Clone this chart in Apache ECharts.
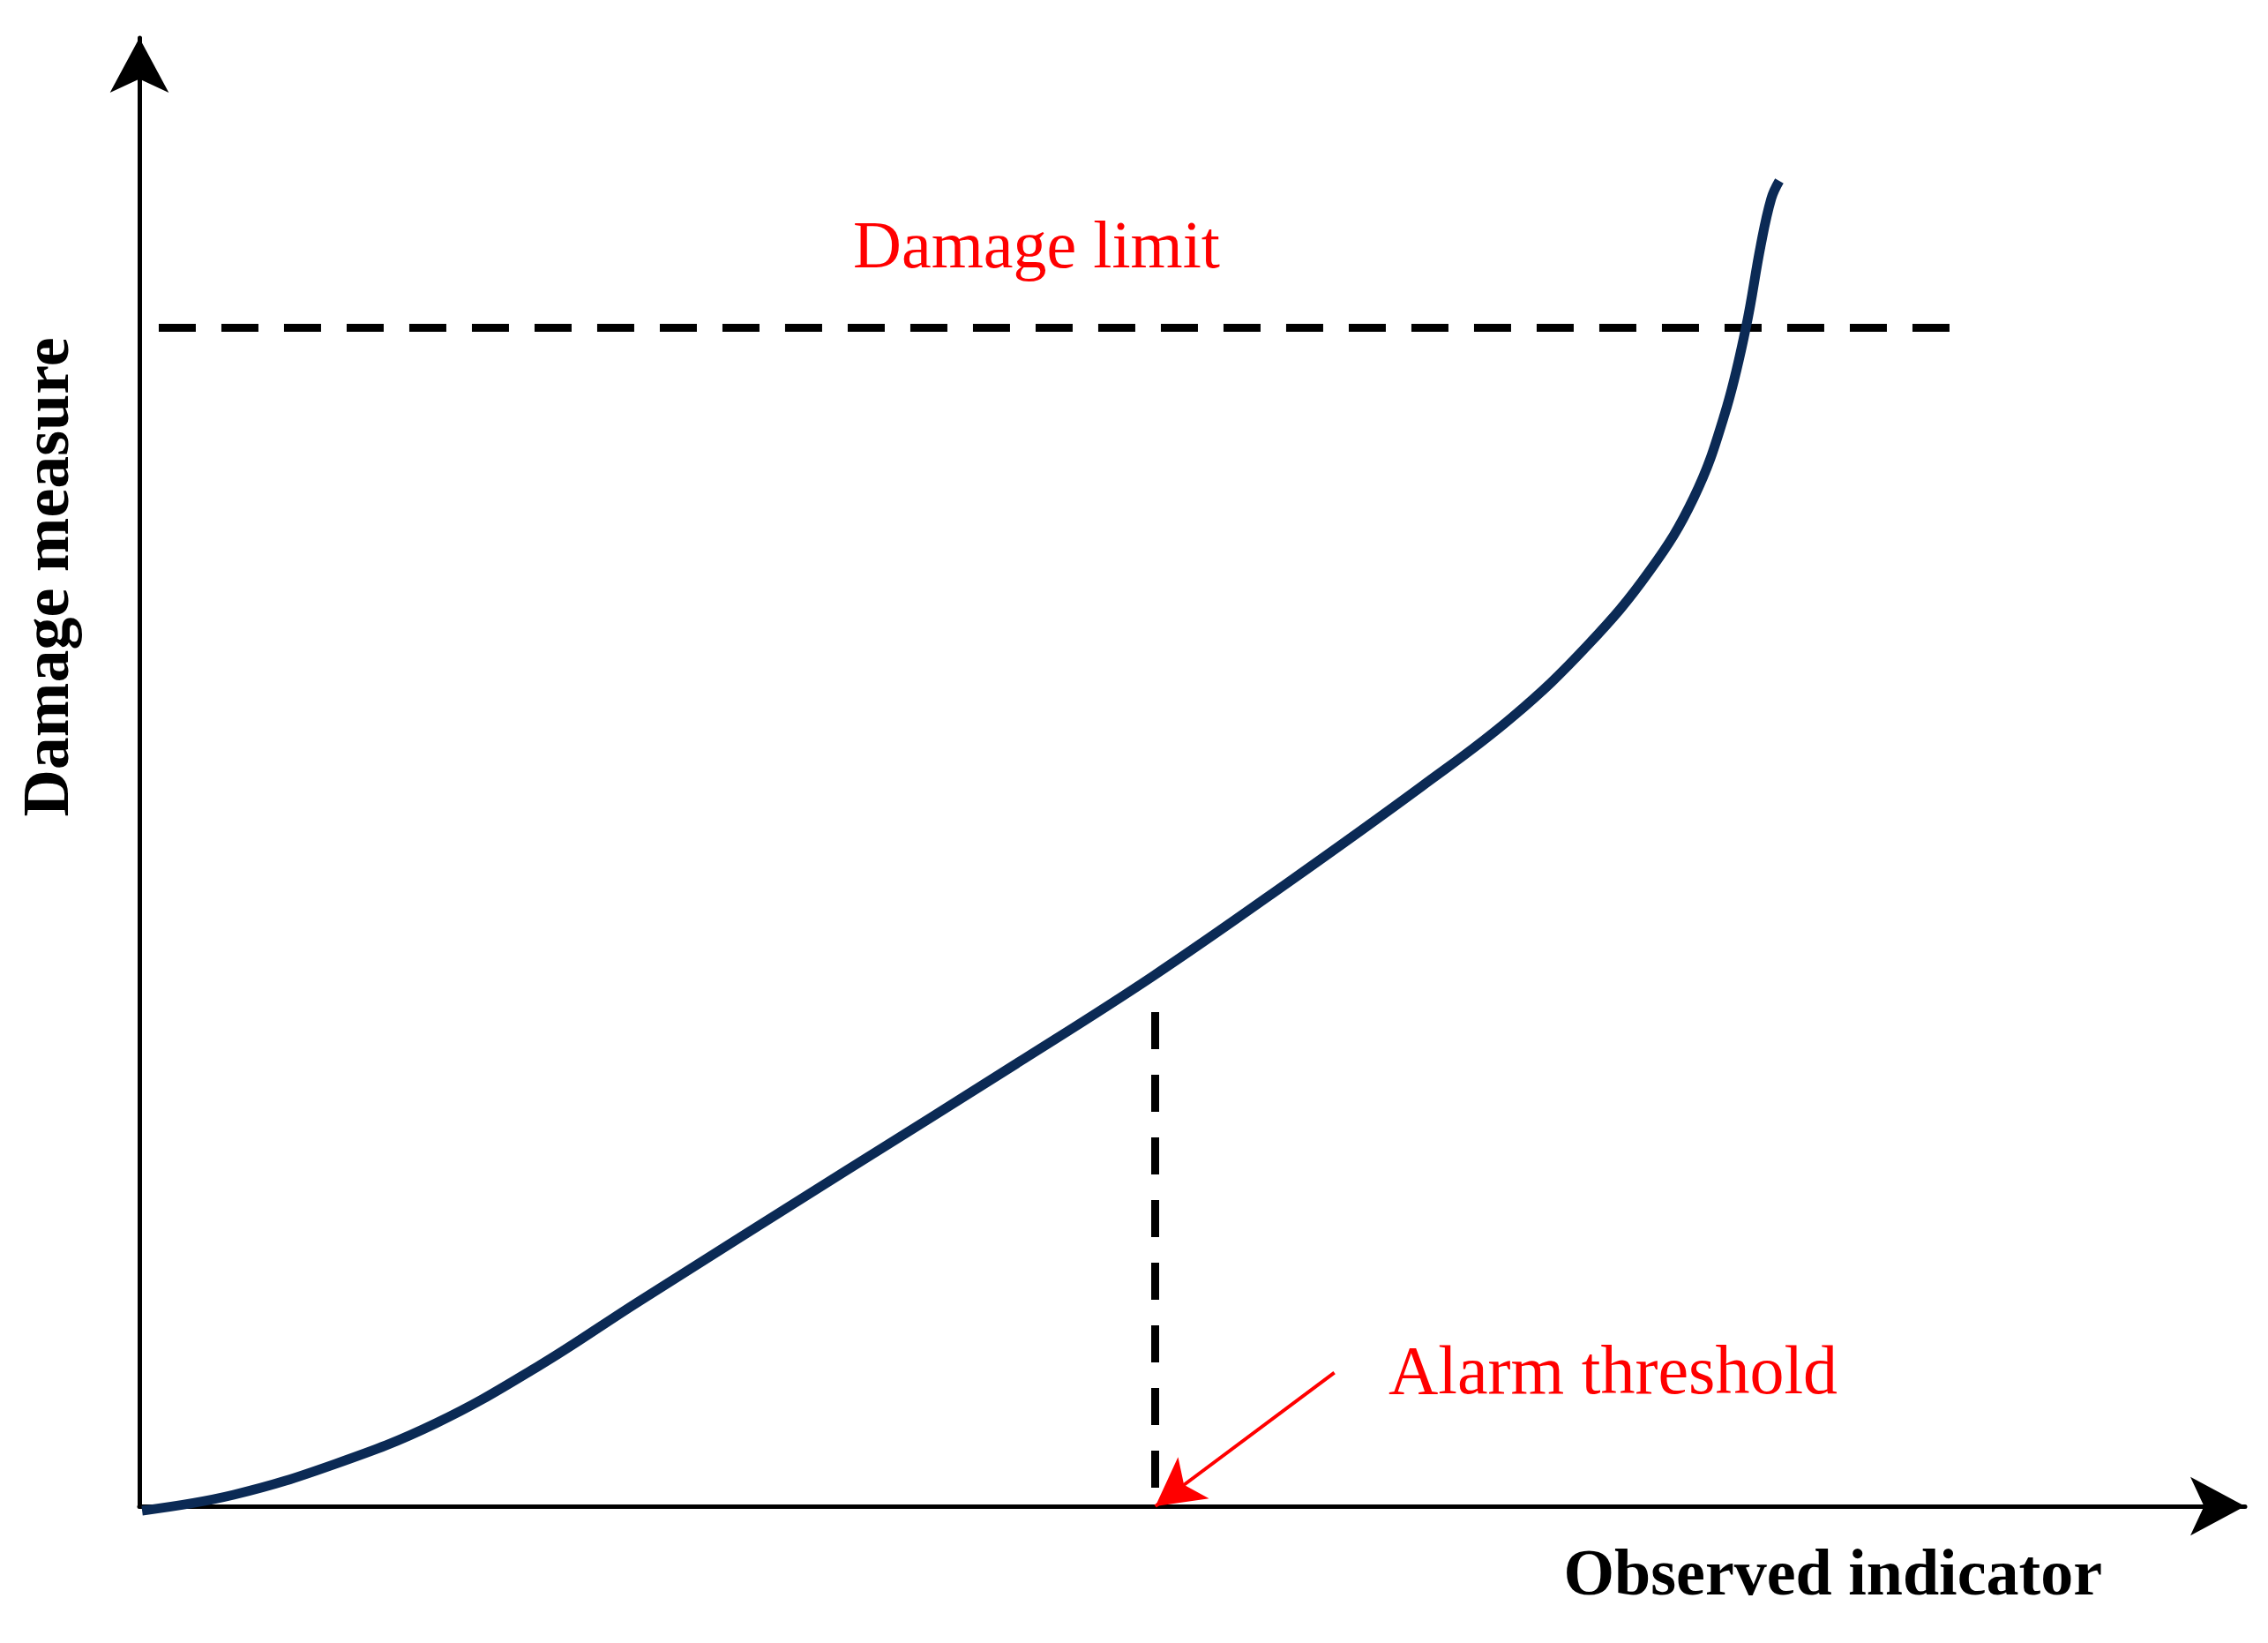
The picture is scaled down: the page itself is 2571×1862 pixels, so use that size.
<!DOCTYPE html>
<html>
<head>
<meta charset="utf-8">
<script src="https://cdn.jsdelivr.net/npm/echarts@6/dist/echarts.min.js"></script>
<style>
html,body{margin:0;padding:0;background:#fff;}
#chart{width:2571px;height:1862px;}
</style>
</head>
<body>
<div id="chart"></div>
<script>
// ---- data (abstract units: x 0..100, y 0..100) ----
const curveX = [0.13, 4.48, 9.30, 14.08, 18.90, 23.71, 33.35, 41.68, 48.09, 54.50, 60.91, 65.19, 68.79, 71.72, 73.82, 75.28, 76.29, 77.00, 77.50, 77.88];
const curveY = [-0.30, 0.78, 2.88, 5.65, 9.50, 13.94, 22.66, 30.17, 36.06, 42.43, 49.04, 53.73, 58.65, 63.70, 68.69, 74.34, 80.23, 85.88, 89.06, 90.26];
const damageLimitY = 80.25;
const damageLimitXRange = [0.92, 86.0];
const alarmX = 48.25;
const alarmYRange = [33.65, 1.2];
const alarmArrowFrom = [56.75, 9.1];
const alarmArrowTo = [48.25, 0];
const labels = {
  damageLimit: 'Damage limit',
  alarm: 'Alarm threshold',
  xName: 'Observed indicator',
  yName: 'Damage measure'
};

const curveData = curveX.map((x, i) => [x, curveY[i]]);

const chart = echarts.init(document.getElementById('chart'), null, {renderer: 'canvas'});
const serif = "'Liberation Serif', 'DejaVu Serif', serif";

chart.setOption({
  backgroundColor: '#ffffff',
  animation: false,
  grid: {left: 158, top: 43, right: 26, bottom: 155, containLabel: false, outerBoundsMode: 'none'},
  xAxis: {
    type: 'value', min: 0, max: 100,
    axisLine: {show: true, onZero: true, symbol: ['none', 'arrow'], symbolSize: [50, 62],
      lineStyle: {color: '#000', width: 5}},
    axisTick: {show: false}, axisLabel: {show: false}, splitLine: {show: false}
  },
  yAxis: {
    type: 'value', min: 0, max: 100,
    axisLine: {show: true, onZero: true, symbol: ['none', 'arrow'], symbolSize: [50, 62],
      lineStyle: {color: '#000', width: 5}},
    axisTick: {show: false}, axisLabel: {show: false}, splitLine: {show: false}
  },
  series: [
    {
      type: 'line',
      data: curveData,
      smooth: 0.4,
      showSymbol: false,
      symbol: 'none',
      clip: false,
      z: 5,
      lineStyle: {color: '#0b2a55', width: 11, cap: 'butt'}
    },
    {
      type: 'line',
      data: [],
      markLine: {
        silent: true,
        animation: false,
        symbol: ['none', 'none'],
        label: {show: false},
        lineStyle: {color: '#000', width: 9, type: [42, 29]},
        data: [
          [{coord: [damageLimitXRange[0], damageLimitY]}, {coord: [damageLimitXRange[1], damageLimitY]}],
          [{coord: [alarmX, alarmYRange[0]]}, {coord: [alarmX, alarmYRange[1]]}]
        ]
      }
    },
    {
      type: 'line',
      data: [],
      markLine: {
        silent: true,
        animation: false,
        symbol: ['none', 'arrow'],
        symbolSize: [44, 54],
        label: {show: false},
        lineStyle: {color: '#ff0000', width: 4, type: 'solid'},
        data: [
          [{coord: alarmArrowFrom}, {coord: alarmArrowTo}]
        ]
      }
    }
  ],
  graphic: [
    {type: 'text', x: 1175, y: 283, z: 10,
      style: {text: labels.damageLimit, fill: '#ff0000', font: '76px ' + serif, align: 'center', verticalAlign: 'middle'}},
    {type: 'text', x: 1574, y: 1559, z: 10,
      style: {text: labels.alarm, fill: '#ff0000', font: '78px ' + serif, align: 'left', verticalAlign: 'middle'}},
    {type: 'text', x: 2383, y: 1788, z: 10,
      style: {text: labels.xName, fill: '#000', font: 'bold 74px ' + serif, align: 'right', verticalAlign: 'middle'}},
    {type: 'text', x: 58, y: 654, rotation: Math.PI / 2, z: 10,
      style: {text: labels.yName, fill: '#000', font: 'bold 74px ' + serif, align: 'center', verticalAlign: 'middle'}}
  ]
});
</script>
</body>
</html>
